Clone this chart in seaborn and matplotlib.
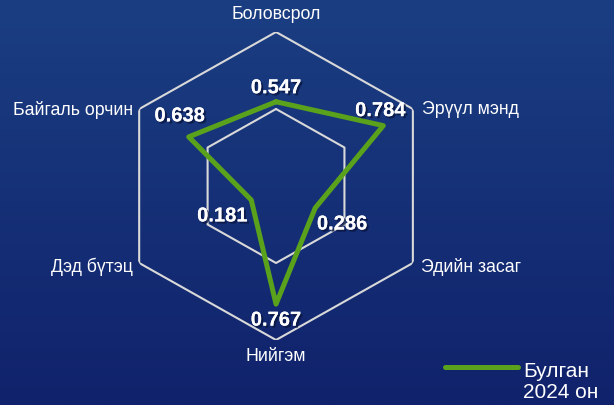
import numpy as np
import seaborn as sns
import matplotlib.pyplot as plt
import matplotlib.patheffects as pe
from matplotlib.colors import LinearSegmentedColormap

categories = ["Боловсрол", "Эрүүл мэнд", "Эдийн засаг", "Нийгэм", "Дэд бүтэц", "Байгаль орчин"]
values = [0.547, 0.784, 0.286, 0.767, 0.181, 0.638]
grid_levels = [0.5, 1.0]
series_label = "Булган\n2024 он"

green = "#5aa21c"
grid_color = "#d9d9d9"

sns.set_theme(style="white")
plt.rcParams['font.family'] = ['Liberation Sans', 'DejaVu Sans']

fig = plt.figure(figsize=(6.14, 4.05), dpi=100)

# background gradient
bg = fig.add_axes([0, 0, 1, 1])
grad = np.linspace(0, 1, 256).reshape(-1, 1)
cmap = LinearSegmentedColormap.from_list('bg', ['#1b3e82', '#10226b'])
bg.imshow(grad, aspect='auto', cmap=cmap, extent=[0, 1, 0, 1])
bg.axis('off')

ax = fig.add_axes([0.1922, 0.1605, 0.5147, 0.7605], projection='polar')
ax.set_theta_offset(np.pi / 2)
ax.set_theta_direction(-1)
ax.set_aspect('auto')
ax.patch.set_alpha(0)

n = len(categories)
theta = np.linspace(0, 2 * np.pi, n, endpoint=False)
theta_closed = np.append(theta, theta[0])

# hexagon grid
for lvl in grid_levels:
    ax.plot(theta_closed, [lvl] * (n + 1), color=grid_color, lw=1.5, zorder=1)

vals_closed = values + values[:1]
sns.lineplot(x=theta_closed, y=vals_closed, sort=False, estimator=None, ax=ax,
             color=green, lw=3.6, label=series_label, legend=False, zorder=3)

ax.set_ylim(0, 1)
ax.grid(False)
ax.spines['polar'].set_visible(False)
ax.set_xticks([])
ax.set_yticks([])
ax.set_xlabel('')
ax.set_ylabel('')

# category labels
cat_pos = [((0, 17), 'center'), ((9, -1), 'left'), ((8, -4), 'left'),
           ((0, -17), 'center'), ((-6, -4), 'right'), ((-6, -1), 'right')]
for t, cat, (off, ha) in zip(theta, categories, cat_pos):
    ax.annotate(cat, xy=(t, 1.0), xytext=off, textcoords='offset pixels',
                ha=ha, va='center', color='white', fontsize=12.8)

# value labels
val_off = [(0, 14), (-3, 15), (27, -16), (0, -16), (-29, -16), (-9, 21)]
shadow = [pe.withSimplePatchShadow(offset=(1.5, -1.5), shadow_rgbFace='#0a1640', alpha=0.8), pe.Normal()]
for t, v, off in zip(theta, values, val_off):
    ax.annotate(f"{v:.3f}", xy=(t, v), xytext=off, textcoords='offset pixels',
                ha='center', va='center', color='white', fontsize=14.5,
                fontweight='bold', path_effects=shadow, zorder=5)

handles, labels = ax.get_legend_handles_labels()
leg = fig.legend(handles, labels, loc='upper left', bbox_to_anchor=(445 / 614, 1 - 362 / 405),
                 frameon=False, fontsize=15, handlelength=3.5, handletextpad=0.25,
                 borderpad=0, borderaxespad=0)
for txt in leg.get_texts():
    txt.set_color('white')
    txt.set_linespacing(1.1)
# lift the handle to the first text line
hl = leg.legend_handles[0]
hl.set_ydata(np.asarray(hl.get_ydata()) + 11)

fig.savefig('out.png', dpi=100)
